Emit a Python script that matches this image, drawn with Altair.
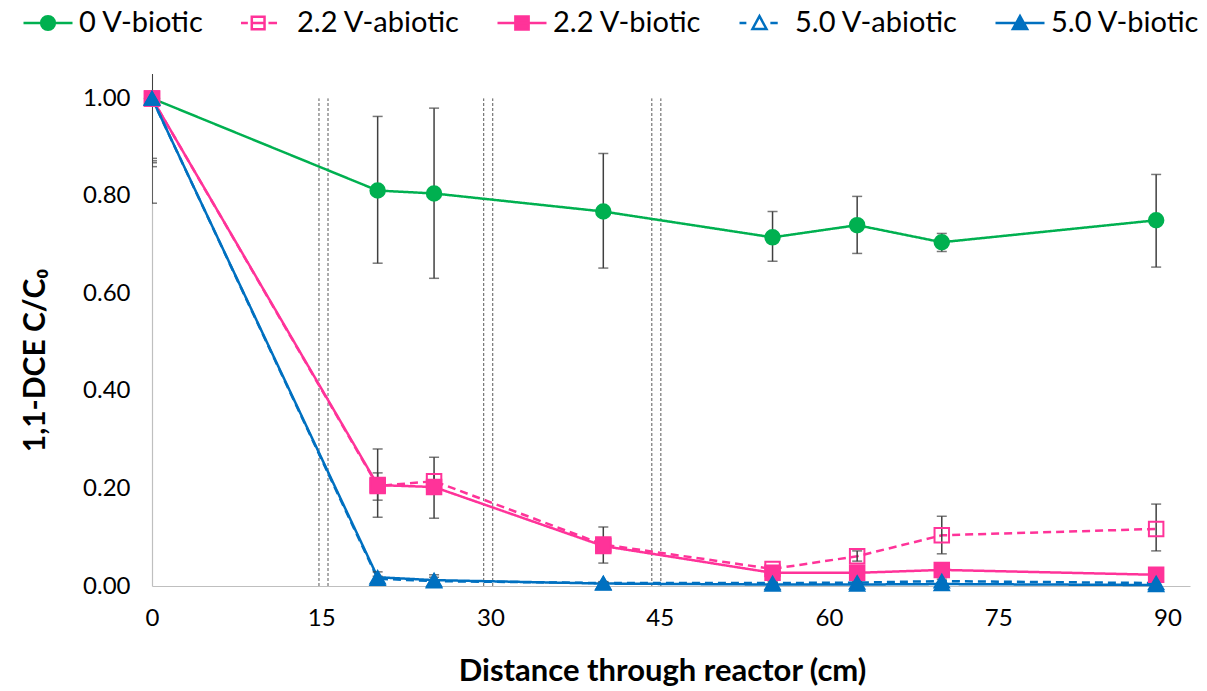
import altair as alt
import pandas as pd

# ---------------- data ----------------
series = ["0 V-biotic", "2.2 V-abiotic", "2.2 V-biotic", "5.0 V-abiotic", "5.0 V-biotic"]
distance = [0, 20, 25, 40, 55, 62.5, 70, 89]

y_0v_biotic = [1.00, 0.811, 0.805, 0.768, 0.715, 0.740, 0.705, 0.750]
lo_0v_biotic = [0.785, 0.662, 0.631, 0.652, 0.666, 0.682, 0.686, 0.654]
hi_0v_biotic = [1.215, 0.963, 0.980, 0.887, 0.768, 0.799, 0.723, 0.844]

y_22v_abiotic = [1.00, 0.205, 0.215, 0.085, 0.035, 0.061, 0.104, 0.117]
lo_22v_abiotic = [0.868, 0.176, 0.200, 0.072, 0.030, 0.051, 0.066, 0.072]
hi_22v_abiotic = [1.132, 0.232, 0.230, 0.098, 0.040, 0.072, 0.143, 0.168]

y_22v_biotic = [1.00, 0.207, 0.203, 0.082, 0.027, 0.027, 0.033, 0.023]
lo_22v_biotic = [0.877, 0.141, 0.139, 0.047, 0.022, 0.022, 0.028, 0.018]
hi_22v_biotic = [1.123, 0.281, 0.264, 0.121, 0.032, 0.032, 0.038, 0.028]

y_50v_abiotic = [1.00, 0.015, 0.010, 0.006, 0.006, 0.007, 0.010, 0.006]
lo_50v_abiotic = [0.860, 0.010, 0.000, 0.003, 0.003, 0.004, 0.006, 0.003]
hi_50v_abiotic = [1.140, 0.020, 0.023, 0.009, 0.009, 0.010, 0.014, 0.009]

y_50v_biotic = [1.00, 0.018, 0.012, 0.005, 0.003, 0.003, 0.004, 0.002]
lo_50v_biotic = [0.872, 0.008, 0.006, 0.002, 0.001, 0.001, 0.002, 0.001]
hi_50v_biotic = [1.128, 0.029, 0.018, 0.008, 0.005, 0.005, 0.006, 0.004]

separator_x = [14.8, 15.6, 29.4, 30.2, 44.3, 45.1]
separator_bottom = [0, 0, 0, 0, 0, 0]
separator_top = [1.0, 1.0, 1.0, 1.0, 1.0, 1.0]

x_ticks = [0, 15, 30, 45, 60, 75, 90]
y_ticks = [0.0, 0.2, 0.4, 0.6, 0.8, 1.0]

# ---------------- styles ----------------
GREEN, PINK, BLUE = "#00B050", "#FF3399", "#0070C0"
colors = [GREEN, PINK, PINK, BLUE, BLUE]
dashes = [[1, 0], [8, 5], [1, 0], [8, 5], [1, 0]]
point_shapes = ["circle", "square", "square", "triangle-up", "triangle-up"]
point_fills = [GREEN, "transparent", PINK, "transparent", BLUE]
legend_fills = [GREEN, "white", PINK, "white", BLUE]
legend_shapes = [
    "M-1,0H1M-0.28,0A0.28,0.28,0,1,1,0.28,0A0.28,0.28,0,1,1,-0.28,0Z",
    "M-1.02,0H-0.74M-0.58,-0.26H-0.06V0.26H-0.58ZM-0.58,0H-0.06M0.1,0H0.45",
    "M-1,0H1M-0.27,-0.27H0.27V0.27H-0.27Z",
    "M-1.0,0H-0.72M-0.47,0.24H0.1L-0.185,-0.28ZM0.26,0H0.56",
    "M-1,0H1M-0.29,0.24H0.29L0,-0.28Z",
]
FONT = "Lato"

ys = [y_0v_biotic, y_22v_abiotic, y_22v_biotic, y_50v_abiotic, y_50v_biotic]
los = [lo_0v_biotic, lo_22v_abiotic, lo_22v_biotic, lo_50v_abiotic, lo_50v_biotic]
his = [hi_0v_biotic, hi_22v_abiotic, hi_22v_biotic, hi_50v_abiotic, hi_50v_biotic]

rows = []
for s, yv, lv, hv in zip(series, ys, los, his):
    for xi, yi, li, hi in zip(distance, yv, lv, hv):
        rows.append({"series": s, "x": xi, "y": yi, "lo": li, "hi": hi})
df = pd.DataFrame(rows)
sep_df = pd.DataFrame({"x": separator_x, "y0": separator_bottom, "y1": separator_top})

xscale = alt.Scale(domain=[0, 92], nice=False)
yscale = alt.Scale(domain=[0, 1.05], nice=False)

x_axis = alt.Axis(
    values=x_ticks, title="Distance through reactor (cm)", titleFont=FONT,
    titleFontSize=31, titleFontWeight="bold", titleColor="black",
    titleX=510, titleY=85, titleBaseline="middle", labelFont=FONT, labelFontSize=24,
    labelColor="black", labelPadding=20, labelFlush=False, ticks=False,
    grid=False, domainColor="#BFBFBF", domainWidth=1.2,
)
y_axis = alt.Axis(
    values=y_ticks, format=".2f", title="1,1-DCE C/C₀", titleFont=FONT,
    titleFontSize=30, titleFontWeight="bold", titleColor="black",
    titleX=-117, titleY=286, titleAlign="center", titleBaseline="middle",
    titleAngle=270, labelFont=FONT, labelFontSize=24, labelColor="black",
    labelPadding=22, ticks=False, grid=False, domainColor="#BFBFBF", domainWidth=1.2,
)

X = alt.X("x:Q", scale=xscale, axis=x_axis)
Y = alt.Y("y:Q", scale=yscale, axis=y_axis)
ser_dom = dict(domain=series)

seps = alt.Chart(sep_df).mark_rule(color="#595959", strokeWidth=1, strokeDash=[3, 2]).encode(
    x=alt.X("x:Q", scale=xscale, axis=x_axis),
    y=alt.Y("y0:Q", scale=yscale, axis=y_axis),
    y2="y1:Q",
)

lines = alt.Chart(df).mark_line(strokeWidth=2.5).encode(
    x=X, y=Y,
    color=alt.Color("series:N", scale=alt.Scale(range=colors, **ser_dom), legend=None),
    strokeDash=alt.StrokeDash("series:N", scale=alt.Scale(range=dashes, **ser_dom), legend=None),
)

err_rule = alt.Chart(df).mark_rule(color="#404040", strokeWidth=1.5, clip=True).encode(
    x=X, y=alt.Y("lo:Q", scale=yscale, axis=y_axis), y2="hi:Q",
)
cap_lo = alt.Chart(df).mark_tick(color="#404040", orient="horizontal", size=10, thickness=1.5, clip=True).encode(
    x=X, y=alt.Y("lo:Q", scale=yscale, axis=y_axis),
)
cap_hi = alt.Chart(df).mark_tick(color="#404040", orient="horizontal", size=10, thickness=1.5, clip=True).encode(
    x=X, y=alt.Y("hi:Q", scale=yscale, axis=y_axis),
)

points = alt.Chart(df).mark_point(filled=False, opacity=1, strokeWidth=2, size=210).encode(
    x=X, y=Y,
    stroke=alt.Stroke("series:N", scale=alt.Scale(range=colors, **ser_dom), legend=None),
    fill=alt.Fill("series:N", scale=alt.Scale(range=point_fills, **ser_dom), legend=None),
    shape=alt.Shape("series:N", scale=alt.Scale(range=point_shapes, **ser_dom), legend=None),
)

leg = alt.Legend(
    title=None, orient="none", direction="horizontal", legendX=-130, legendY=-77,
    labelFont=FONT, labelFontSize=29, labelColor="black", labelOffset=5, labelLimit=0,
    columnPadding=32, symbolSize=2401, symbolStrokeWidth=2.5, padding=0,
)
legend_layer = alt.Chart(df).transform_filter("false").mark_point(filled=False, opacity=1, strokeWidth=2.5).encode(
    x=X, y=Y,
    stroke=alt.Stroke("series:N", scale=alt.Scale(range=colors, **ser_dom), legend=leg),
    fill=alt.Fill("series:N", scale=alt.Scale(range=legend_fills, **ser_dom), legend=leg),
    shape=alt.Shape("series:N", scale=alt.Scale(range=legend_shapes, **ser_dom), legend=leg),
)

chart = (
    alt.layer(seps, lines, err_rule, cap_lo, cap_hi, points, legend_layer)
    .resolve_scale(stroke="independent", fill="independent", shape="independent")
    .properties(
        width=1038, height=512,
        padding={"left": 152, "top": 74, "right": 17, "bottom": 105},
        autosize=alt.AutoSizeParams(type="none"),
        background="white",
    )
    .configure_view(stroke=None)
)

chart.save("out.html", embed_options={"renderer": "svg", "actions": False})
